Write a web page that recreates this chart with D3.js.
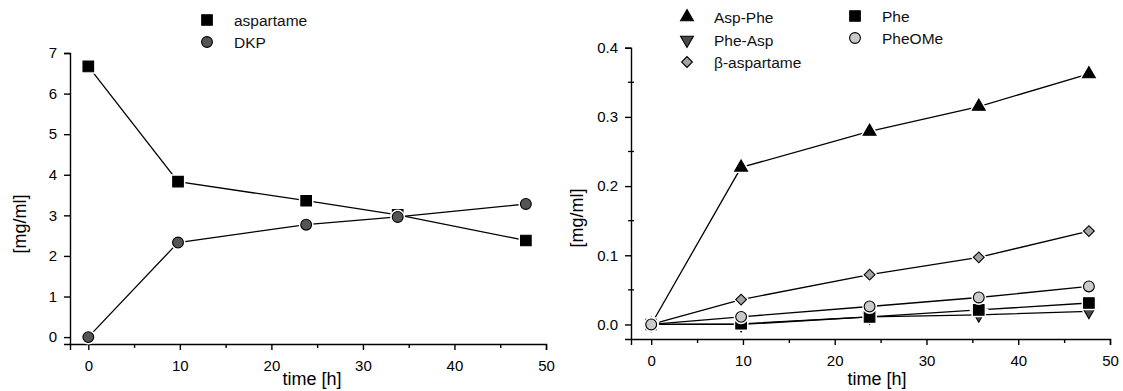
<!DOCTYPE html>
<html>
<head>
<meta charset="utf-8">
<script src="https://cdn.jsdelivr.net/npm/d3@7"></script>
<style>
  body { margin: 0; background: #fff; }
  svg { display: block; font-family: "Liberation Sans", Arial, sans-serif; }
  .axis path, .axis line { stroke: #000; stroke-width: 1.4; }
  .axis text { font-size: 15px; fill: #000; }
  .title { font-size: 18px; fill: #000; }
  .legend text { font-size: 15.5px; fill: #111; }
</style>
</head>
<body>
<svg id="chart" width="1123" height="391"></svg>
<script>
// left panel: aspartame degradation
var leftTimes = [0, 9.8, 23.8, 33.8, 47.8];
var aspartame = [6.67, 3.83, 3.36, 3.01, 2.38];
var dkp = [0.0, 2.33, 2.77, 2.96, 3.28];
var leftYTicks = [0, 1, 2, 3, 4, 5, 6, 7];

// right panel: by-products
var rightTimes = [0, 9.8, 23.8, 35.7, 47.7];
var aspPhe = [0.0, 0.227, 0.279, 0.315, 0.362];
var pheAsp = [0.0, 0.0, 0.011, 0.014, 0.019];
var betaAspartame = [0.0, 0.036, 0.072, 0.097, 0.135];
var phe = [0.0, 0.001, 0.011, 0.021, 0.031];
var pheOMe = [0.0, 0.011, 0.026, 0.039, 0.055];
var rightYTicks = [0.0, 0.1, 0.2, 0.3, 0.4];
var rightYMinor = [0.05, 0.15, 0.25, 0.35];

var xTicks = [0, 10, 20, 30, 40, 50];
var xMinor = [5, 15, 25, 35, 45];

var svg = d3.select('#chart');

function marker(type, fill) {
    return { type: type, fill: fill };
}

var leftSeries = [
    { name: 'aspartame', values: aspartame, m: marker('square', '#000') },
    { name: 'DKP', values: dkp, m: marker('circle', '#555') }
];

var rightSeries = [
    { name: 'Asp-Phe', values: aspPhe, m: marker('up', '#000') },
    { name: 'Phe-Asp', values: pheAsp, m: marker('down', '#4a4a4a') },
    { name: '\u03b2-aspartame', values: betaAspartame, m: marker('diamond', '#a3a3a3') },
    { name: 'Phe', values: phe, m: marker('square', '#000') },
    { name: 'PheOMe', values: pheOMe, m: marker('circle', '#cacaca') }
];

function symbolPath(type) {
    if (type === 'square') return d3.symbol(d3.symbolSquare, 112)();
    if (type === 'circle') return d3.symbol(d3.symbolCircle, 92)();
    if (type === 'up' || type === 'down') return d3.symbol(d3.symbolTriangle, 72)();
    if (type === 'diamond') return d3.symbol(d3.symbolSquare, 58)();
}

function symbolRotate(type) {
    if (type === 'down') return 180;
    if (type === 'diamond') return 45;
    return 0;
}

function drawMarker(g, m, cx, cy) {
    var t = 'translate(' + cx + ',' + cy + ') rotate(' + symbolRotate(m.type) + ')';
    g.append('path')
        .attr('d', symbolPath(m.type))
        .attr('transform', t)
        .attr('fill', 'none')
        .attr('stroke', '#fff')
        .attr('stroke-width', 4);
    g.append('path')
        .attr('d', symbolPath(m.type))
        .attr('transform', t)
        .attr('fill', m.fill)
        .attr('stroke', '#000')
        .attr('stroke-width', 1.1);
}

function panel(opt) {
    var x = d3.scaleLinear().domain(opt.xDomain).range(opt.xRange);
    var y = d3.scaleLinear().domain(opt.yDomain).range(opt.yRange);
    var g = svg.append('g');

    // axes
    g.append('g')
        .attr('class', 'axis')
        .attr('transform', 'translate(0,' + opt.yRange[0] + ')')
        .call(d3.axisBottom(x).tickValues(xTicks).tickSizeOuter(0).tickSize(6).tickPadding(10).tickFormat(d3.format('d')));

    var minorX = g.append('g')
        .attr('class', 'axis')
        .attr('transform', 'translate(0,' + opt.yRange[0] + ')')
        .call(d3.axisBottom(x).tickValues(xMinor).tickSizeOuter(0).tickSize(4).tickFormat(''));
    minorX.select('.domain').remove();

    g.append('g')
        .attr('class', 'axis')
        .attr('transform', 'translate(' + opt.xRange[0] + ',0)')
        .call(d3.axisLeft(y).tickValues(opt.yTicks).tickSizeOuter(0).tickSize(6).tickPadding(7).tickFormat(opt.yFormat));

    if (opt.yMinor) {
        g.append('g').selectAll('line')
            .data(opt.yMinor)
            .join('line')
            .attr('x1', opt.xRange[0] - 3)
            .attr('x2', opt.xRange[0] + 3)
            .attr('y1', function(d) { return y(d); })
            .attr('y2', function(d) { return y(d); })
            .attr('stroke', '#000')
            .attr('stroke-width', 1.3);
    }

    // titles
    g.append('text')
        .attr('class', 'title')
        .attr('x', opt.xTitleX)
        .attr('y', 385)
        .attr('text-anchor', 'middle')
        .text('time [h]');

    g.append('text')
        .attr('class', 'title')
        .attr('transform', 'translate(' + opt.yTitle[0] + ',' + opt.yTitle[1] + ') rotate(-90)')
        .attr('text-anchor', 'middle')
        .text('[mg/ml]');

    // lines then markers
    var line = d3.line()
        .x(function(d) { return x(d[0]); })
        .y(function(d) { return y(d[1]); });

    opt.series.forEach(function(s) {
        var pts = opt.times.map(function(t, i) { return [t, s.values[i]]; });
        g.append('path')
            .datum(pts)
            .attr('d', line)
            .attr('fill', 'none')
            .attr('stroke', '#000')
            .attr('stroke-width', 1.3);
    });

    opt.series.forEach(function(s) {
        opt.times.forEach(function(t, i) {
            drawMarker(g, s.m, x(t), y(s.values[i]));
        });
    });

    // legend
    var lg = g.append('g').attr('class', 'legend');
    opt.legend.forEach(function(item) {
        var s = opt.series[item.i];
        drawMarker(lg, s.m, item.x, item.y);
        lg.append('text')
            .attr('x', item.x + 27)
            .attr('y', item.y + 5.5)
            .text(s.name);
    });
}

panel({
    xDomain: [-2, 50], xRange: [70, 546],
    yDomain: [-0.17, 7], yRange: [344, 53],
    yTicks: leftYTicks, yFormat: d3.format('d'),
    times: leftTimes, series: leftSeries,
    xTitleX: 312, yTitle: [26, 224],
    legend: [{ i: 0, x: 207, y: 20 }, { i: 1, x: 207, y: 42 }]
});

panel({
    xDomain: [-2.2, 50], xRange: [631, 1110],
    yDomain: [-0.021, 0.4], yRange: [339, 47.7],
    yTicks: rightYTicks, yMinor: rightYMinor, yFormat: d3.format('.1f'),
    times: rightTimes, series: rightSeries,
    xTitleX: 877, yTitle: [583, 218],
    legend: [
        { i: 0, x: 687, y: 17 }, { i: 1, x: 687, y: 40 }, { i: 2, x: 687, y: 62 },
        { i: 3, x: 855, y: 16 }, { i: 4, x: 855, y: 38 }
    ]
});
</script>
</body>
</html>
